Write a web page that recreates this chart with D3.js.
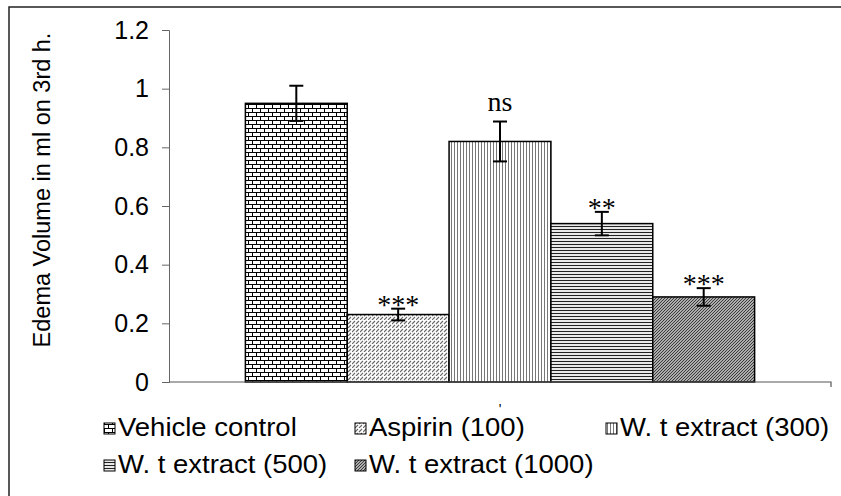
<!DOCTYPE html>
<html lang="en">
<head>
	<meta charset="utf-8">
	<title>Edema volume</title>
	<script src="https://cdn.jsdelivr.net/npm/d3@7"></script>
	<style>
		body { margin: 0; background: #fff; }
		svg { display: block; }
		.tick text { font-family: "Liberation Sans", Arial, sans-serif; font-size: 25px; fill: #000; }
		.lbl { font-family: "Liberation Sans", Arial, sans-serif; font-size: 25px; fill: #000; }
		.sig { font-family: "Liberation Serif", "Times New Roman", serif; font-size: 28px; fill: #000; }
	</style>
</head>
<body>
<svg id="chart" width="841" height="496"></svg>
<script>
	// data
	var groups = ["Vehicle control", "Aspirin (100)", "W. t extract (300)", "W. t extract (500)", "W. t extract (1000)"];
	var means = [0.95, 0.23, 0.82, 0.54, 0.29];
	var errs = [0.06, 0.02, 0.068, 0.04, 0.03];
	var marks = ["", "***", "ns", "**", "***"];
	var yTicks = [0, 0.2, 0.4, 0.6, 0.8, 1, 1.2];
	var fills = ["url(#brick)", "url(#dashdiag)", "url(#vlines)", "url(#hlines)", "url(#darkdiag)"];

	var svg = d3.select("#chart");
	var pLeft = 169, pRight = 831, pTop = 30, pBottom = 382;

	// outer frame (cut off at right and bottom)
	svg.append("rect").attr("x", 9).attr("y", 7).attr("width", 850).attr("height", 520)
		.attr("fill", "none").attr("stroke", "#222").attr("stroke-width", 1.5);

	// patterns
	var defs = svg.append("defs");
	var p = defs.append("pattern").attr("id", "brick").attr("patternUnits", "userSpaceOnUse")
		.attr("width", 8).attr("height", 8);
	p.append("rect").attr("width", 8).attr("height", 8).attr("fill", "#fff");
	p.append("path").attr("d", "M0,0.5H8M0,4.5H8M0.5,0V4M4.5,4V8").attr("stroke", "#000").attr("stroke-width", 1);

	p = defs.append("pattern").attr("id", "dashdiag").attr("patternUnits", "userSpaceOnUse")
		.attr("width", 8).attr("height", 8);
	p.append("rect").attr("width", 8).attr("height", 8).attr("fill", "#fff");
	p.append("path").attr("d", "M0,8L3,5M4,4L7,1M4,8L7,5M0,4L3,1").attr("stroke", "#666").attr("stroke-width", 1.1);

	p = defs.append("pattern").attr("id", "vlines").attr("patternUnits", "userSpaceOnUse")
		.attr("width", 3).attr("height", 4);
	p.append("rect").attr("width", 3).attr("height", 4).attr("fill", "#fff");
	p.append("path").attr("d", "M1.5,0V4").attr("stroke", "#777").attr("stroke-width", 1);

	p = defs.append("pattern").attr("id", "hlines").attr("patternUnits", "userSpaceOnUse")
		.attr("width", 4).attr("height", 3);
	p.append("rect").attr("width", 4).attr("height", 3).attr("fill", "#fff");
	p.append("path").attr("d", "M0,1.5H4").attr("stroke", "#222").attr("stroke-width", 1.2);

	p = defs.append("pattern").attr("id", "darkdiag").attr("patternUnits", "userSpaceOnUse")
		.attr("width", 3).attr("height", 3);
	p.append("rect").attr("width", 3).attr("height", 3).attr("fill", "#ddd");
	p.append("path").attr("d", "M-1,4L4,-1M-1,1L1,-1M2,4L4,2").attr("stroke", "#333").attr("stroke-width", 1.1);

	var y = d3.scaleLinear().domain([0, 1.2]).range([pBottom, pTop]);
	var x = d3.scaleBand().domain(groups).range([pLeft, pRight]).paddingInner(0).paddingOuter(0.75);

	// y axis
	var ya = svg.append("g").attr("transform", "translate(" + pLeft + ",0)")
		.call(d3.axisLeft(y).tickValues(yTicks).tickSize(7).tickPadding(13).tickFormat(d3.format("~g")));
	ya.select(".domain").attr("stroke", "#666");
	ya.selectAll(".tick line").attr("stroke", "#666");

	// bars
	svg.selectAll(".bar").data(groups).enter().append("rect")
		.attr("class", "bar")
		.attr("x", function(d) { return x(d); })
		.attr("y", function(d, i) { return y(means[i]); })
		.attr("width", x.bandwidth())
		.attr("height", function(d, i) { return pBottom - y(means[i]); })
		.attr("fill", function(d, i) { return fills[i]; })
		.attr("stroke", "#000").attr("stroke-width", 1.5);

	// x axis
	svg.append("path").attr("d", "M" + pLeft + "," + pBottom + "H" + pRight + "V" + (pBottom + 5))
		.attr("stroke", "#555").attr("stroke-width", 1.2).attr("fill", "none");
	svg.append("text").attr("class", "lbl").attr("x", (pLeft + pRight) / 2).attr("y", 414)
		.attr("text-anchor", "middle").style("font-size", "14px").text("'");

	// error bars
	var eb = svg.selectAll(".err").data(groups).enter().append("g").attr("class", "err")
		.attr("stroke", "#000").attr("stroke-width", 2);
	eb.append("line")
		.attr("x1", function(d) { return x(d) + x.bandwidth() / 2; })
		.attr("x2", function(d) { return x(d) + x.bandwidth() / 2; })
		.attr("y1", function(d, i) { return y(means[i] + errs[i]); })
		.attr("y2", function(d, i) { return y(means[i] - errs[i]); });
	[1, -1].forEach(function(s) {
		eb.append("line")
			.attr("x1", function(d) { return x(d) + x.bandwidth() / 2 - 7; })
			.attr("x2", function(d) { return x(d) + x.bandwidth() / 2 + 7; })
			.attr("y1", function(d, i) { return y(means[i] + s * errs[i]); })
			.attr("y2", function(d, i) { return y(means[i] + s * errs[i]); });
	});

	// significance marks
	svg.selectAll(".sig").data(groups).enter().append("text")
		.attr("class", "sig")
		.attr("text-anchor", "middle")
		.attr("x", function(d) { return x(d) + x.bandwidth() / 2; })
		.attr("y", function(d, i) {
			var t = y(means[i] + errs[i]);
			return marks[i] === "ns" ? t - 11 : t + 5;
		})
		.text(function(d, i) { return marks[i]; });

	// y label
	svg.append("text").attr("class", "lbl")
		.attr("transform", "translate(50,190) rotate(-90)")
		.attr("text-anchor", "middle")
		.style("font-size", "23.5px")
		.text("Edema Volume in ml on 3rd h.");

	// legend (text slightly stretched wide, like the original)
	var legX = [104, 355, 606, 104, 355], legY = [436, 436, 436, 473, 473];
	var lg = svg.selectAll(".leg").data(groups).enter().append("g").attr("class", "leg")
		.attr("transform", function(d, i) { return "translate(" + legX[i] + "," + legY[i] + ")"; });
	lg.append("rect").attr("x", 0).attr("y", -13).attr("width", 11).attr("height", 11)
		.attr("fill", function(d, i) { return fills[i]; }).attr("stroke", "#000").attr("stroke-width", 1);
	lg.append("text").attr("class", "lbl").attr("transform", "translate(14,0) scale(1.1,1)")
		.text(function(d) { return d; });
</script>
</body>
</html>
